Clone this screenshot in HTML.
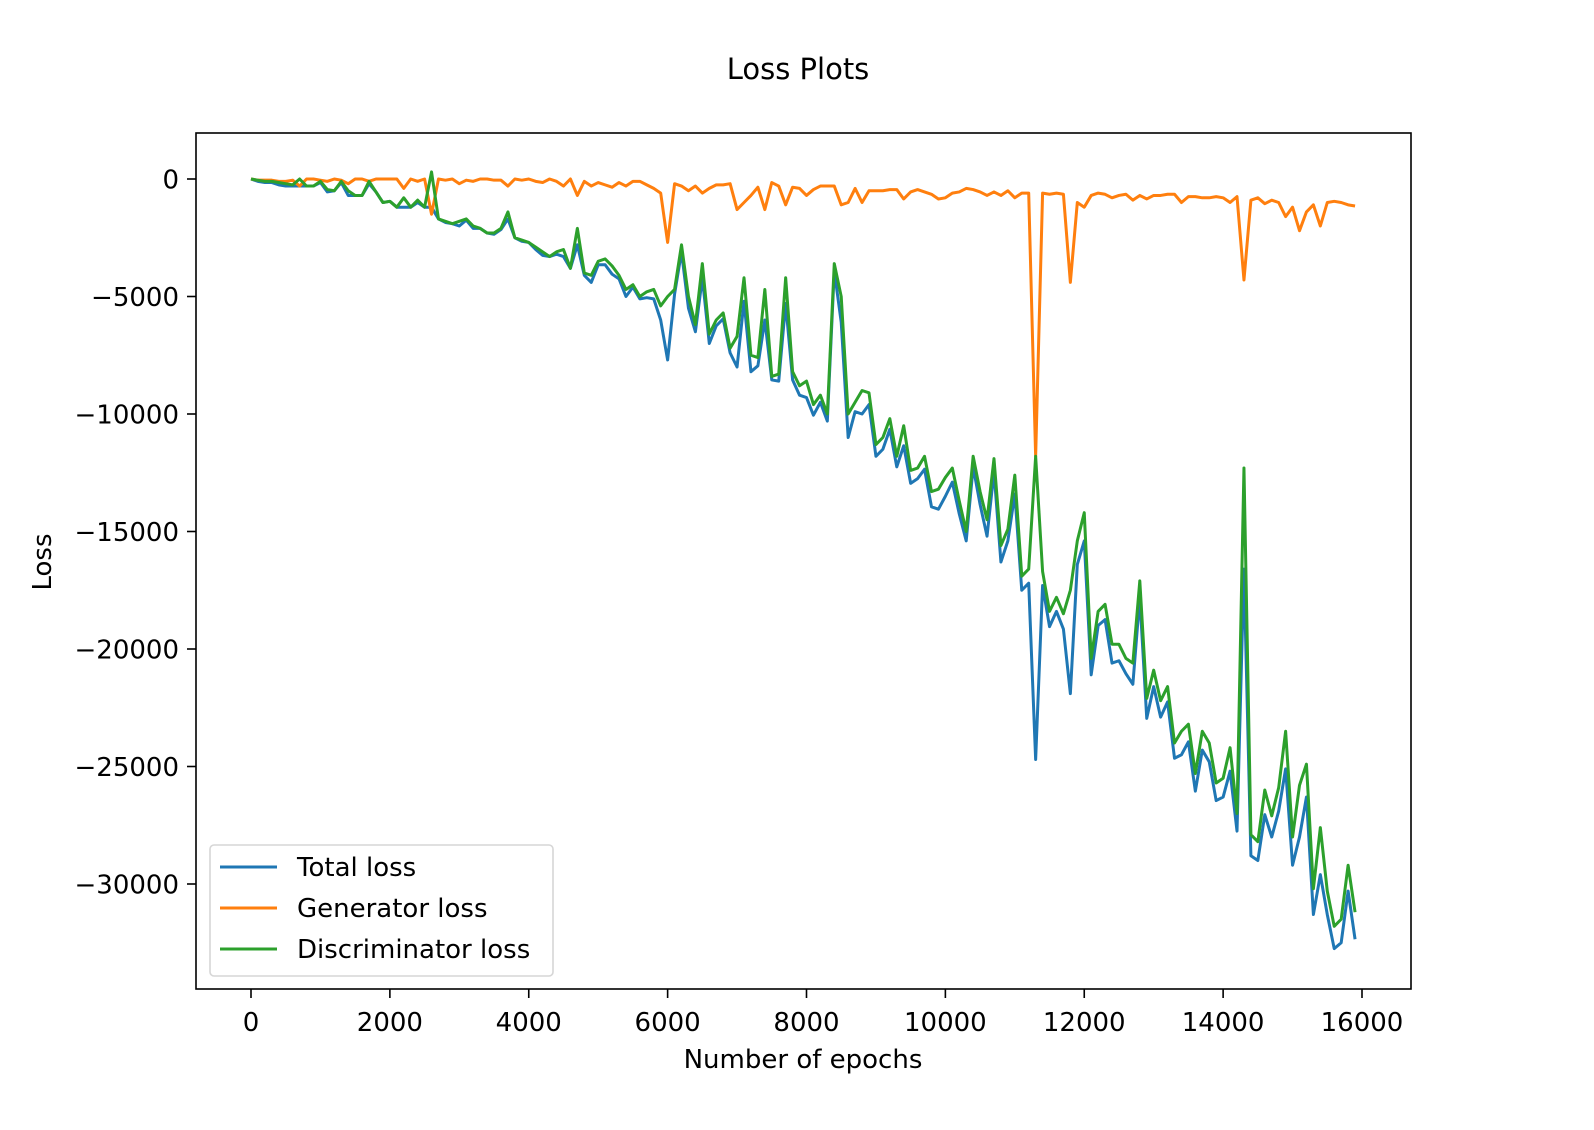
<!DOCTYPE html>
<html><head><meta charset="utf-8"><style>
body{margin:0;background:#fff;}
svg{display:block;font-family:"DejaVu Sans","Liberation Sans",sans-serif;}
</style></head><body>
<svg id="chart" width="1594" height="1130">
<rect x="0" y="0" width="1594" height="1130" fill="#fff"/>
<text x="798" y="79" font-size="29" text-anchor="middle">Loss Plots</text>
<g id="plot"></g>
<rect x="196" y="133" width="1215" height="856" fill="none" stroke="#000" stroke-width="1.6"/>
<g id="ticks"></g>
<text x="803" y="1068" font-size="26" text-anchor="middle">Number of epochs</text>
<text transform="translate(51,562) rotate(-90)" font-size="26" text-anchor="middle">Loss</text>
<g>
<rect x="210" y="845" width="343" height="131" rx="4" fill="#fff" fill-opacity="0.8" stroke="#d6d6d6" stroke-width="1.6"/>
<g><line x1="220" y1="867" x2="277" y2="867" stroke="#1f77b4" stroke-width="3"/><text x="297" y="876" font-size="26">Total loss</text></g>
<g><line x1="220" y1="908" x2="277" y2="908" stroke="#ff7f0e" stroke-width="3"/><text x="297" y="917" font-size="26">Generator loss</text></g>
<g><line x1="220" y1="949" x2="277" y2="949" stroke="#2ca02c" stroke-width="3"/><text x="297" y="958" font-size="26">Discriminator loss</text></g>
</g>
</svg>
<script>
const epochStep = 100;
const totalLoss = [0,-100,-150,-150,-250,-300,-300,-300,-300,-300,-150,-550,-500,-150,-700,-700,-700,-200,-550,-1000,-950,-1200,-1200,-1200,-1000,-1200,-1200,-1700,-1850,-1900,-2000,-1750,-2100,-2100,-2300,-2350,-2150,-1700,-2500,-2650,-2700,-3000,-3250,-3300,-3200,-3300,-3800,-2800,-4100,-4400,-3650,-3650,-4050,-4250,-5000,-4600,-5100,-5050,-5100,-6000,-7700,-4900,-3100,-5500,-6500,-4200,-7000,-6250,-5950,-7400,-8000,-5200,-8200,-7950,-6000,-8550,-8600,-5300,-8550,-9200,-9300,-10050,-9500,-10300,-3900,-6100,-11000,-9900,-10000,-9600,-11800,-11500,-10650,-12250,-11350,-12950,-12750,-12350,-13950,-14050,-13500,-12900,-14250,-15400,-12250,-13850,-15200,-12450,-16300,-15400,-13400,-17500,-17200,-24700,-17300,-19050,-18400,-19150,-21900,-16400,-15400,-21100,-19000,-18750,-20600,-20500,-21050,-21500,-17800,-22950,-21600,-22900,-22250,-24650,-24500,-23950,-26050,-24300,-24800,-26450,-26300,-25200,-27750,-16600,-28800,-29000,-27050,-28000,-26900,-25100,-29200,-28000,-26300,-31300,-29600,-31300,-32750,-32500,-30300,-32350];
const generatorLoss = [0,-50,-50,-50,-100,-100,-50,-300,0,0,-50,-100,0,-50,-200,0,0,-100,0,0,0,0,-400,0,-100,0,-1500,0,-50,0,-200,-50,-100,0,0,-50,-50,-300,0,-50,0,-100,-150,0,-100,-300,0,-700,-100,-300,-150,-250,-350,-150,-300,-100,-100,-250,-400,-600,-2700,-200,-300,-500,-300,-600,-400,-250,-250,-200,-1300,-1000,-700,-350,-1300,-150,-300,-1100,-350,-400,-700,-450,-300,-300,-300,-1100,-1000,-400,-1000,-500,-500,-500,-450,-450,-850,-550,-450,-550,-650,-850,-800,-600,-550,-400,-450,-550,-700,-550,-700,-500,-800,-600,-600,-11800,-600,-650,-600,-650,-4400,-1000,-1200,-700,-600,-650,-800,-700,-650,-900,-700,-850,-700,-700,-650,-650,-1000,-750,-750,-800,-800,-750,-800,-1000,-750,-4300,-900,-800,-1050,-900,-1000,-1600,-1200,-2200,-1400,-1100,-2000,-1000,-950,-1000,-1100,-1150];
const discriminatorLoss = [0,-50,-100,-100,-150,-200,-250,0,-300,-300,-100,-450,-500,-100,-500,-700,-700,-100,-550,-1000,-950,-1200,-800,-1200,-900,-1200,300,-1700,-1800,-1900,-1800,-1700,-2000,-2100,-2300,-2300,-2100,-1400,-2500,-2600,-2700,-2900,-3100,-3300,-3100,-3000,-3800,-2100,-4000,-4100,-3500,-3400,-3700,-4100,-4700,-4500,-5000,-4800,-4700,-5400,-5000,-4700,-2800,-5000,-6200,-3600,-6600,-6000,-5700,-7200,-6700,-4200,-7500,-7600,-4700,-8400,-8300,-4200,-8200,-8800,-8600,-9600,-9200,-10000,-3600,-5000,-10000,-9500,-9000,-9100,-11300,-11000,-10200,-11800,-10500,-12400,-12300,-11800,-13300,-13200,-12700,-12300,-13700,-15000,-11800,-13300,-14500,-11900,-15600,-14900,-12600,-16900,-16600,-11800,-16700,-18400,-17800,-18500,-17500,-15400,-14200,-20400,-18400,-18100,-19800,-19800,-20400,-20600,-17100,-22100,-20900,-22200,-21600,-24000,-23500,-23200,-25300,-23500,-24000,-25700,-25500,-24200,-27000,-12300,-27900,-28200,-26000,-27100,-25900,-23500,-28000,-25800,-24900,-30200,-27600,-30300,-31800,-31500,-29200,-31200];
const xTicks = [0,2000,4000,6000,8000,10000,12000,14000,16000];
const yTicks = [0,-5000,-10000,-15000,-20000,-25000,-30000];

const NS = "http://www.w3.org/2000/svg";
function xs(v){ return 251 + v * (1111/16000); }
function ys(v){ return 179 - v * (705/30000); }

const plot = document.getElementById('plot');
function drawSeries(arr, color, name){
  const pts = arr.map((v,i)=> xs(i*epochStep).toFixed(2)+","+ys(v).toFixed(2)).join(" ");
  const pl = document.createElementNS(NS,'polyline');
  pl.setAttribute('points', pts);
  pl.setAttribute('fill','none');
  pl.setAttribute('stroke', color);
  pl.setAttribute('stroke-width','3');
  pl.setAttribute('stroke-linejoin','round');
  
  
  plot.appendChild(pl);
}
drawSeries(totalLoss, '#1f77b4', 'total-loss-line');
drawSeries(generatorLoss, '#ff7f0e', 'generator-loss-line');
drawSeries(discriminatorLoss, '#2ca02c', 'discriminator-loss-line');

const ticks = document.getElementById('ticks');
function fmt(v){ return v<0 ? "\u2212"+Math.abs(v) : String(v); }
xTicks.forEach(v=>{
  const x = xs(v);
  const l = document.createElementNS(NS,'line');
  l.setAttribute('x1',x); l.setAttribute('x2',x); l.setAttribute('y1',989); l.setAttribute('y2',998);
  l.setAttribute('stroke','#000'); l.setAttribute('stroke-width','1.6');
  
  
  ticks.appendChild(l);
  const t = document.createElementNS(NS,'text');
  t.setAttribute('x',x); t.setAttribute('y',1031); t.setAttribute('font-size','26'); t.setAttribute('text-anchor','middle');
  t.textContent = fmt(v);
  
  
  ticks.appendChild(t);
});
yTicks.forEach(v=>{
  const y = ys(v);
  const l = document.createElementNS(NS,'line');
  l.setAttribute('x1',187); l.setAttribute('x2',196); l.setAttribute('y1',y); l.setAttribute('y2',y);
  l.setAttribute('stroke','#000'); l.setAttribute('stroke-width','1.6');
  
  
  ticks.appendChild(l);
  const t = document.createElementNS(NS,'text');
  t.setAttribute('x',179); t.setAttribute('y',y+9.5); t.setAttribute('font-size','26'); t.setAttribute('text-anchor','end');
  t.textContent = fmt(v);
  
  
  ticks.appendChild(t);
});
</script>
</body></html>
